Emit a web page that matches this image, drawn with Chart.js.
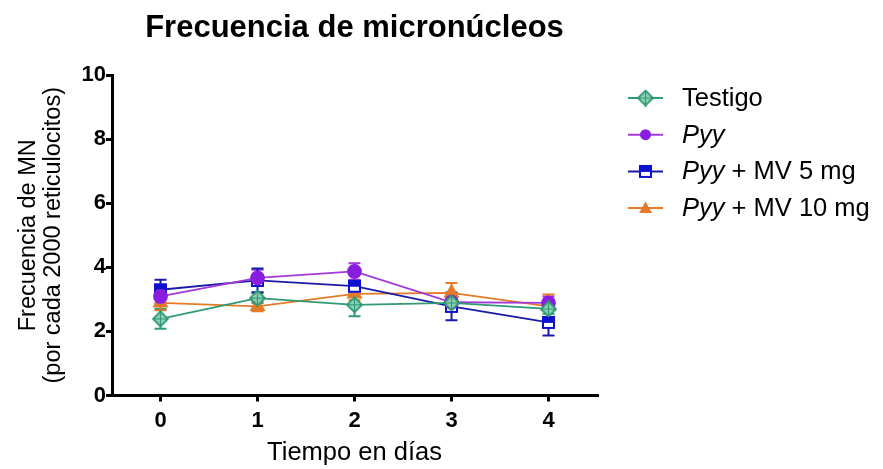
<!DOCTYPE html>
<html><head><meta charset="utf-8">
<script src="https://cdn.jsdelivr.net/npm/chart.js@4"></script>
<style>html,body{margin:0;padding:0;background:#fff;}#wrap{width:883px;height:469px;}</style>
</head><body><div id="wrap"><canvas id="c" width="883" height="469"></canvas></div>
<script>
// ---- data ----
const TITLE = 'Frecuencia de micronúcleos';
const X_TITLE = 'Tiempo en días';
const Y_TITLE = ['Frecuencia de MN', '(por cada 2000 reticulocitos)'];
const days = [0, 1, 2, 3, 4];
const xTickLabels = ['0', '1', '2', '3', '4'];
const yTickValues = [0, 2, 4, 6, 8, 10];
const seriesNames = ['Testigo', 'Pyy', 'Pyy + MV 5 mg', 'Pyy + MV 10 mg'];
const testigo    = [2.39, 3.04, 2.83, 2.89, 2.70];
const testigoErr = [0.31, 0.15, 0.36, 0.15, 0.15];
const pyy        = [3.09, 3.67, 3.87, 2.91, 2.89];
const pyyErr     = [0.20, 0.25, 0.26, 0.15, 0.20];
const mv5        = [3.30, 3.59, 3.41, 2.78, 2.28];
const mv5Err     = [0.31, 0.37, 0.15, 0.43, 0.41];
const mv10       = [2.89, 2.78, 3.17, 3.20, 2.78];
const mv10Err    = [0.23, 0.15, 0.20, 0.31, 0.37];

// legend label parts (italic species name)
const legendParts = [
  [{t: 'Testigo', i: false}],
  [{t: 'Pyy', i: true}],
  [{t: 'Pyy', i: true}, {t: ' + MV 5 mg', i: false}],
  [{t: 'Pyy', i: true}, {t: ' + MV 10 mg', i: false}]
];

const FONT = '"Liberation Sans", Arial, Helvetica, sans-serif';
const GREEN = '#2f9a74', PURPLE = '#a33ad8', BLUE = '#1a1aa8', ORANGE = '#e57a28';

function diamondImg() {
  const c = document.createElement('canvas'); c.width = 17; c.height = 17;
  const g = c.getContext('2d');
  g.beginPath(); g.moveTo(8.5, 1); g.lineTo(16, 8.5); g.lineTo(8.5, 16); g.lineTo(1, 8.5); g.closePath();
  g.fillStyle = '#8fd0b6'; g.fill();
  g.strokeStyle = GREEN; g.lineWidth = 1.8; g.stroke();
  g.beginPath(); g.moveTo(8.5, 2); g.lineTo(8.5, 15); g.moveTo(2, 8.5); g.lineTo(15, 8.5); g.lineWidth = 1.2; g.stroke();
  return c;
}
function squareImg() {
  const c = document.createElement('canvas'); c.width = 15; c.height = 15;
  const g = c.getContext('2d');
  g.fillStyle = '#ffffff'; g.fillRect(1, 1, 13, 13);
  g.fillStyle = '#1010d0'; g.fillRect(1, 1, 13, 7);
  g.strokeStyle = '#1010d0'; g.lineWidth = 2; g.strokeRect(2, 2, 11, 11);
  return c;
}
const DIAMOND = diamondImg(), SQUARE = squareImg();

function pts(vals) { return days.map((d, i) => ({x: d, y: vals[i]})); }

const datasets = [
  {label: seriesNames[0], data: pts(testigo), errors: testigoErr, borderColor: GREEN, backgroundColor: '#8fd0b6',
   pointStyle: DIAMOND, pointRadius: 8, borderWidth: 1.8},
  {label: seriesNames[1], data: pts(pyy), errors: pyyErr, borderColor: PURPLE, backgroundColor: '#8a1ee0',
   pointBorderColor: '#8a1ee0', pointStyle: 'circle', pointRadius: 6.5, borderWidth: 1.8},
  {label: seriesNames[2], data: pts(mv5), errors: mv5Err, borderColor: BLUE, backgroundColor: '#1010d0',
   pointStyle: SQUARE, pointRadius: 7, borderWidth: 1.8},
  {label: seriesNames[3], data: pts(mv10), errors: mv10Err, borderColor: ORANGE, backgroundColor: ORANGE,
   pointBorderColor: ORANGE, pointStyle: 'triangle', pointRadius: 7.5, borderWidth: 1.8}
];

const errorBars = {
  id: 'errorBars',
  beforeDatasetsDraw(chart) {
    const {ctx, scales: {x, y}} = chart;
    chart.data.datasets.forEach(ds => {
      ctx.save();
      ctx.strokeStyle = ds.borderColor; ctx.lineWidth = 2;
      ds.data.forEach((p, i) => {
        const e = ds.errors[i];
        const px = x.getPixelForValue(p.x);
        const yt = y.getPixelForValue(p.y + e), yb = y.getPixelForValue(p.y - e);
        ctx.beginPath();
        ctx.moveTo(px, yt); ctx.lineTo(px, yb);
        ctx.moveTo(px - 6, yt); ctx.lineTo(px + 6, yt);
        ctx.moveTo(px - 6, yb); ctx.lineTo(px + 6, yb);
        ctx.stroke();
      });
      ctx.restore();
    });
  }
};

const titlePlugin = {
  id: 'topTitle',
  afterDraw(chart) {
    const {ctx, chartArea} = chart;
    ctx.save();
    ctx.font = 'bold 31px ' + FONT;
    ctx.fillStyle = '#000'; ctx.textAlign = 'center'; ctx.textBaseline = 'alphabetic';
    ctx.fillText(TITLE, (chartArea.left + chartArea.right) / 2, 37);
    ctx.restore();
  }
};

const legendPlugin = {
  id: 'sideLegend',
  afterDraw(chart) {
    const {ctx} = chart;
    chart.data.datasets.forEach((ds, i) => {
      const yy = 98 + i * 36.7;
      ctx.save();
      ctx.strokeStyle = ds.borderColor; ctx.lineWidth = 2;
      ctx.beginPath(); ctx.moveTo(628, yy); ctx.lineTo(663, yy); ctx.stroke();
      const mx = 645.5;
      if (ds.pointStyle instanceof HTMLCanvasElement) {
        ctx.drawImage(ds.pointStyle, mx - ds.pointStyle.width / 2, yy - ds.pointStyle.height / 2);
      } else if (ds.pointStyle === 'circle') {
        ctx.fillStyle = ds.backgroundColor; ctx.beginPath(); ctx.arc(mx, yy, 5.5, 0, Math.PI * 2); ctx.fill();
      } else if (ds.pointStyle === 'triangle') {
        ctx.fillStyle = ds.backgroundColor; ctx.beginPath();
        ctx.moveTo(mx, yy - 6.5); ctx.lineTo(mx + 6.5, yy + 5); ctx.lineTo(mx - 6.5, yy + 5); ctx.closePath(); ctx.fill();
      }
      let tx = 682;
      ctx.fillStyle = '#000'; ctx.textBaseline = 'middle'; ctx.textAlign = 'left';
      legendParts[i].forEach(part => {
        ctx.font = (part.i ? 'italic ' : '') + '25.5px ' + FONT;
        ctx.fillText(part.t, tx, yy + 1);
        tx += ctx.measureText(part.t).width;
      });
      ctx.restore();
    });
  }
};

new Chart(document.getElementById('c'), {
  type: 'line',
  data: {datasets},
  options: {
    responsive: false, animation: false, devicePixelRatio: 1,
    layout: {padding: {left: 0, top: 75, right: 286, bottom: 0}},
    plugins: {legend: {display: false}, title: {display: false}, tooltip: {enabled: false}},
    elements: {line: {tension: 0}},
    scales: {
      x: {
        type: 'linear', min: -0.5, max: 4.5,
        afterBuildTicks: s => { s.ticks = days.map(v => ({value: v})); },
        afterFit: s => { s.height = 73.5; },
        ticks: {callback: v => xTickLabels[days.indexOf(v)], autoSkip: false, maxRotation: 0,
                color: '#000', padding: 6, font: {family: FONT, size: 22, weight: 'bold'}},
        grid: {display: true, drawOnChartArea: false, drawTicks: true, tickLength: 6, lineWidth: 3, color: '#000'},
        border: {display: true, width: 3, color: '#000'},
        title: {display: true, text: X_TITLE, color: '#000', font: {family: FONT, size: 25.5}, padding: {top: 0, bottom: 1}}
      },
      y: {
        min: 0, max: 10,
        afterBuildTicks: s => { s.ticks = yTickValues.map(v => ({value: v})); },
        afterFit: s => { s.width = 112; },
        ticks: {color: '#000', padding: 0, font: {family: FONT, size: 22, weight: 'bold'}},
        grid: {display: true, drawOnChartArea: false, drawTicks: true, tickLength: 6, lineWidth: 3, color: '#000'},
        border: {display: true, width: 3, color: '#000'},
        title: {display: true, text: Y_TITLE, color: '#000', font: {family: FONT, size: 23.5, lineHeight: '25px'}, padding: {top: 16, bottom: 0}}
      }
    }
  },
  plugins: [errorBars, titlePlugin, legendPlugin]
});
</script>
</body></html>
